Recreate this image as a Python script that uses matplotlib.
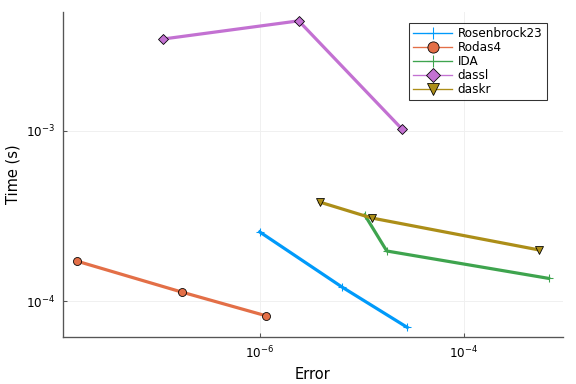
import numpy as np
import matplotlib
matplotlib.use("Agg")
import matplotlib.pyplot as plt

# work-precision data (error, time in s)
ros_err = [1.0e-6, 6.4e-6, 2.8e-5]
ros_time = [2.55e-4, 1.21e-4, 7.0e-5]
rodas_err = [1.6e-8, 1.72e-7, 1.15e-6]
rodas_time = [1.72e-4, 1.13e-4, 8.2e-5]
ida_err = [1.07e-5, 1.76e-5, 6.8e-4]
ida_time = [3.21e-4, 1.97e-4, 1.36e-4]
dassl_err = [1.12e-7, 2.41e-6, 2.47e-5]
dassl_time = [3.47e-3, 4.44e-3, 1.03e-3]
daskr_err = [3.87e-6, 1.25e-5, 5.43e-4]
daskr_time = [3.82e-4, 3.08e-4, 2.0e-4]

series = [
    ("Rosenbrock23", ros_err, ros_time, "#009AFA", "+"),
    ("Rodas4", rodas_err, rodas_time, "#E36F47", "o"),
    ("IDA", ida_err, ida_time, "#3EA44E", "+"),
    ("dassl", dassl_err, dassl_time, "#C371D2", "D"),
    ("daskr", daskr_err, daskr_time, "#AC8E18", "v"),
]

fig = plt.figure(figsize=(6, 4), dpi=96)
ax = fig.add_axes([0.109, 0.122, 0.868, 0.847])

for name, e, t, c, m in series:
    if m == "+":
        ax.plot(e, t, color=c, lw=2.4, marker=m, ms=6, mew=0.8, label=name)
    else:
        ms = 5 if m == "D" else 6
        ax.plot(e, t, color=c, lw=2.4, marker=m, ms=ms, mfc=c, mec="black",
                mew=0.6, label=name)

ax.set_xscale("log")
ax.set_yscale("log")
ax.set_xlim(10**-7.931, 10**-3.029)
ax.set_ylim(10**-4.212, 10**-2.3)
ax.set_xticks([1e-6, 1e-4])
ax.set_yticks([1e-4, 1e-3])
ax.minorticks_off()
ax.grid(True, color="#efefef", lw=0.7)
ax.set_axisbelow(True)
for s in ["top", "right"]:
    ax.spines[s].set_visible(False)
for s in ["left", "bottom"]:
    ax.spines[s].set_color("#555555")
    ax.spines[s].set_linewidth(1.0)
ax.tick_params(direction="in", length=3, width=0.8, color="#555555",
               labelsize=9, pad=6)
ax.set_xlabel("Error", fontsize=11, labelpad=4)
ax.set_ylabel("Time (s)", fontsize=11, labelpad=4)

leg = ax.legend(loc="upper right", bbox_to_anchor=(0.968, 0.966),
                fontsize=9, frameon=True, fancybox=False,
                edgecolor="black", borderpad=0.35, labelspacing=0.08,
                handlelength=3.2, handletextpad=0.5, borderaxespad=0.0,
                markerscale=1.4)
leg.get_frame().set_linewidth(0.8)
for ln in leg.get_lines():
    ln.set_linewidth(1.0)

fig.savefig("out.png", dpi=96)
